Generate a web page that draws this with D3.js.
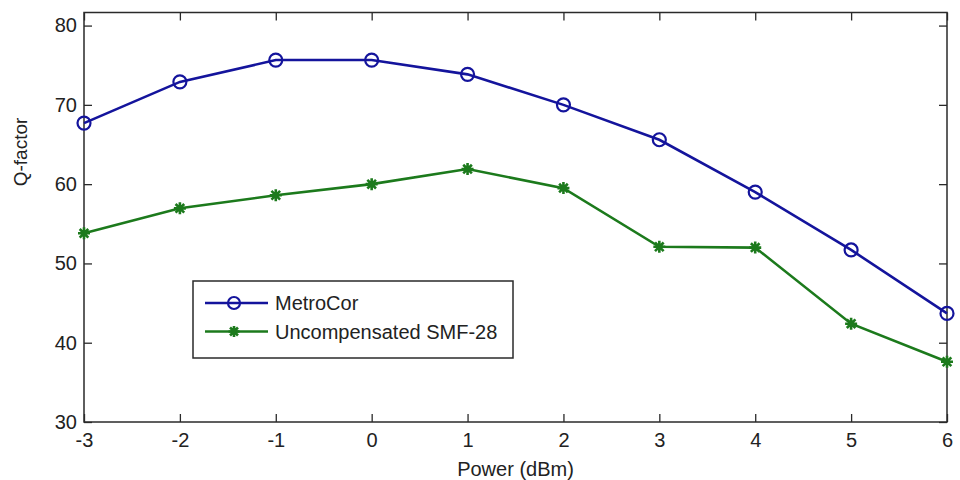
<!DOCTYPE html>
<html>
<head>
<meta charset="utf-8">
<script src="https://cdn.jsdelivr.net/npm/d3@7/dist/d3.min.js"></script>
<style>
  html, body { margin: 0; padding: 0; background: #ffffff; }
  #chart { width: 960px; height: 480px; }
  text { font-family: Arial, "Liberation Sans", sans-serif; fill: #222; }
</style>
</head>
<body>
<div id="chart"></div>
<script>
// power levels (dBm)
const powers = [-3, -2, -1, 0, 1, 2, 3, 4, 5, 6];
// Q-factor values
const metroCor = [67.7, 72.9, 75.65, 75.65, 73.85, 70.0, 65.6, 59.0, 51.7, 43.7];
const smf28 = [53.8, 56.95, 58.6, 60.0, 61.9, 59.5, 52.1, 52.0, 42.4, 37.6];
const xTicks = [-3, -2, -1, 0, 1, 2, 3, 4, 5, 6];
const yTicks = [30, 40, 50, 60, 70, 80];
const seriesNames = ["MetroCor", "Uncompensated SMF-28"];

const drawChart = () => {
    const W = 960, H = 480;
    const margin = { top: 12.5, right: 13, bottom: 58, left: 84 };
    const width = W - margin.left - margin.right;
    const height = H - margin.top - margin.bottom;

    const blue = "#14149c";
    const green = "#1c7a1c";
    const axisColor = "#2a2a2a";

    const svg = d3.select("#chart").append("svg")
        .attr("width", W)
        .attr("height", H);

    const g = svg.append("g")
        .attr("transform", `translate(${margin.left},${margin.top})`);

    const x = d3.scaleLinear().domain([-3, 6]).range([0, width]);
    const y = d3.scaleLinear().domain([30, 81.65]).range([height, 0]);

    // 普通连字符作负号 (和原图一致)
    const fmt = (d) => String(d);

    // 坐标轴 (刻度朝内, 四边都有)
    const styleAxis = (sel) => {
        sel.selectAll(".domain").remove();
        sel.selectAll(".tick line").attr("stroke", axisColor).attr("stroke-width", 1.3);
        sel.selectAll("text").style("font-size", "20px").style("fill", "#222");
    };

    g.append("g")
        .attr("transform", `translate(0,${height})`)
        .call(d3.axisBottom(x).tickValues(xTicks).tickSizeInner(-8).tickSizeOuter(0).tickPadding(11).tickFormat(fmt))
        .call(styleAxis);

    g.append("g")
        .call(d3.axisTop(x).tickValues(xTicks).tickSizeInner(-8).tickSizeOuter(0).tickFormat(""))
        .call(styleAxis);

    g.append("g")
        .call(d3.axisLeft(y).tickValues(yTicks).tickSizeInner(-8).tickSizeOuter(0).tickPadding(7).tickFormat(fmt))
        .call(styleAxis);

    g.append("g")
        .attr("transform", `translate(${width},0)`)
        .call(d3.axisRight(y).tickValues(yTicks).tickSizeInner(-8).tickSizeOuter(0).tickFormat(""))
        .call(styleAxis);

    // 边框
    g.append("rect")
        .attr("x", 0).attr("y", 0)
        .attr("width", width).attr("height", height)
        .attr("fill", "none")
        .attr("stroke", axisColor)
        .attr("stroke-width", 1.5);

    // 轴标签
    svg.append("text")
        .attr("x", margin.left + x(1.5))
        .attr("y", 476)
        .attr("text-anchor", "middle")
        .style("font-size", "20px")
        .text("Power (dBm)");

    svg.append("text")
        .attr("transform", `translate(27,152) rotate(-90)`)
        .attr("text-anchor", "middle")
        .style("font-size", "19px")
        .text("Q-factor");

    // 折线
    const line = d3.line()
        .x((d, i) => x(powers[i]))
        .y((d) => y(d));

    const asterisk = (sel, s) => {
        sel.append("path")
            .attr("d", `M${-s},0H${s}M0,${-s}V${s}M${-s * 0.72},${-s * 0.72}L${s * 0.72},${s * 0.72}M${-s * 0.72},${s * 0.72}L${s * 0.72},${-s * 0.72}`);
    };

    g.append("path")
        .datum(metroCor)
        .attr("fill", "none")
        .attr("stroke", blue)
        .attr("stroke-width", 2.6)
        .attr("d", line);

    g.append("path")
        .datum(smf28)
        .attr("fill", "none")
        .attr("stroke", green)
        .attr("stroke-width", 2.6)
        .attr("d", line);

    g.selectAll(".dot-blue")
        .data(metroCor)
        .enter()
        .append("circle")
        .attr("class", "dot-blue")
        .attr("cx", (d, i) => x(powers[i]))
        .attr("cy", (d) => y(d))
        .attr("r", 6.5)
        .attr("fill", "none")
        .attr("stroke", blue)
        .attr("stroke-width", 2.2);

    g.selectAll(".dot-green")
        .data(smf28)
        .enter()
        .append("g")
        .attr("class", "dot-green")
        .attr("transform", (d, i) => `translate(${x(powers[i])},${y(d)})`)
        .attr("stroke", green)
        .attr("stroke-width", 2.6)
        .each(function () { asterisk(d3.select(this), 6); });

    // 图例
    const legend = svg.append("g").attr("transform", "translate(193,281)");

    legend.append("rect")
        .attr("width", 320)
        .attr("height", 77)
        .attr("fill", "#ffffff")
        .attr("stroke", axisColor)
        .attr("stroke-width", 1.5);

    const colors = [blue, green];
    seriesNames.forEach((name, i) => {
        const ly = 22 + i * 28.5;
        const row = legend.append("g").attr("transform", `translate(0,${ly})`);
        row.append("line")
            .attr("x1", 12).attr("x2", 75)
            .attr("y1", 0).attr("y2", 0)
            .attr("stroke", colors[i])
            .attr("stroke-width", 2.6);
        if (i === 0) {
            row.append("circle")
                .attr("cx", 41).attr("cy", 0).attr("r", 6)
                .attr("fill", "none")
                .attr("stroke", blue)
                .attr("stroke-width", 2.2);
        } else {
            const m = row.append("g")
                .attr("transform", "translate(41,0)")
                .attr("stroke", green)
                .attr("stroke-width", 2.6);
            asterisk(m, 5.5);
        }
        row.append("text")
            .attr("x", 82)
            .attr("y", 7)
            .style("font-size", "20px")
            .text(name);
    });
};

if (document.readyState === "loading") {
    document.addEventListener("DOMContentLoaded", drawChart);
} else {
    drawChart();
}
</script>
</body>
</html>
